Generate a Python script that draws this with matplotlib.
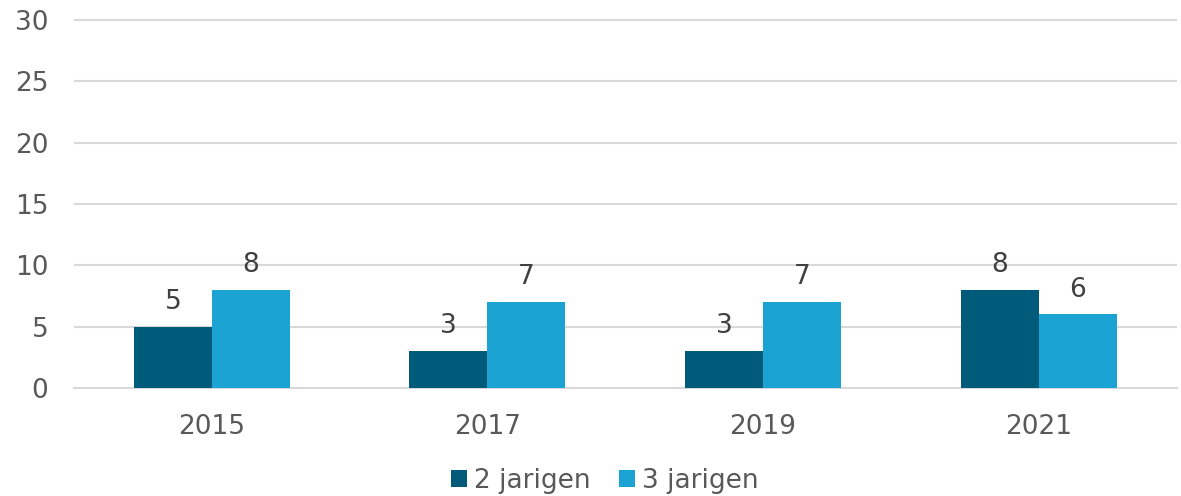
import matplotlib
matplotlib.use('Agg')
import matplotlib.pyplot as plt
import numpy as np

years = ['2015', '2017', '2019', '2021']
twee_jarigen = [5, 3, 3, 8]
drie_jarigen = [8, 7, 7, 6]
series_names = ['2 jarigen', '3 jarigen']

c_dark = '#005b7a'
c_light = '#1ba3d3'
txt = '#595959'

plt.rcParams['font.family'] = ['DejaVu Sans']

fig = plt.figure(figsize=(11.81, 4.96), dpi=100)
ax = fig.add_axes([0.0627, 0.2177, 0.9335, 0.7444])

x = np.arange(len(years))
w = 0.283
b1 = ax.bar(x - w/2, twee_jarigen, w, color=c_dark, label=series_names[0], zorder=3)
b2 = ax.bar(x + w/2, drie_jarigen, w, color=c_light, label=series_names[1], zorder=3)

# waarden boven de balken
for bars in (b1, b2):
    for r in bars:
        ax.annotate(str(int(r.get_height())), (r.get_x() + r.get_width()/2, r.get_height()),
                    xytext=(0, 8.5), textcoords='offset points', ha='center', va='bottom',
                    fontsize=19, color='#404040')

ax.set_xlim(-0.5, 3.5)
ax.set_ylim(0, 30.1)  # iets ruimte zodat de bovenste lijn heel blijft
ax.set_yticks(range(0, 31, 5))
ax.set_xticks(x)
ax.set_xticklabels(years)
ax.tick_params(axis='both', length=0, labelsize=19, labelcolor=txt)
ax.tick_params(axis='y', pad=18.5)
ax.tick_params(axis='x', pad=19)
ax.grid(axis='y', color='#d9d9d9', linewidth=1.5, zorder=0)
for s in ['top', 'right', 'left']:
    ax.spines[s].set_visible(False)
ax.spines['bottom'].set_color('#d9d9d9')
ax.spines['bottom'].set_linewidth(1.5)

fig.legend(loc='center', bbox_to_anchor=(0.512, 0.030), ncol=2, frameon=False,
           fontsize=19, labelcolor=txt, handlelength=0.6, handleheight=0.6,
           handletextpad=0.25, columnspacing=1.1)

fig.savefig('out.png', dpi=100)
